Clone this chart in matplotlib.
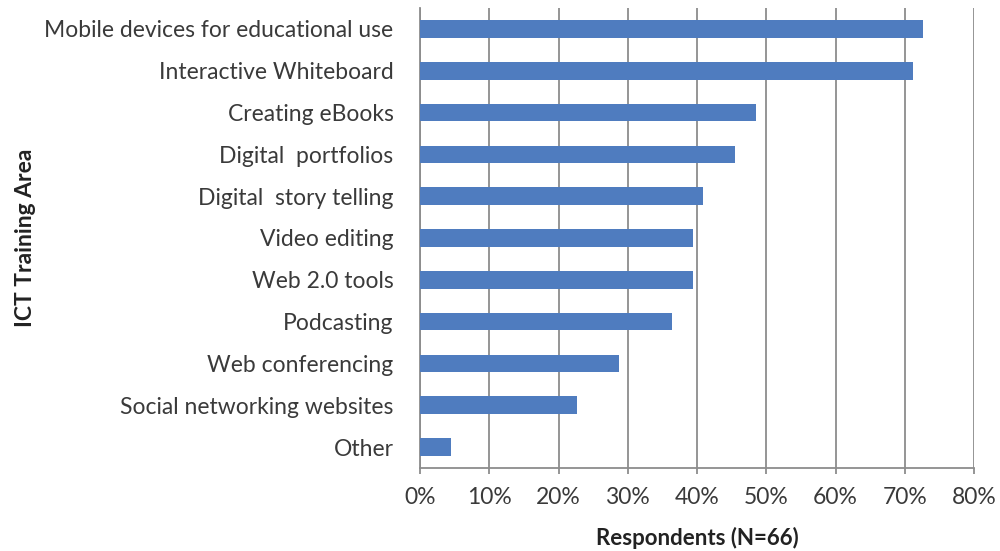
import matplotlib
matplotlib.use("Agg")
import matplotlib.pyplot as plt
from matplotlib.ticker import PercentFormatter

categories = [
    "Mobile devices for educational use",
    "Interactive Whiteboard",
    "Creating eBooks",
    "Digital  portfolios",
    "Digital  story telling",
    "Video editing",
    "Web 2.0 tools",
    "Podcasting",
    "Web conferencing",
    "Social networking websites",
    "Other",
]
values = [72.7, 71.2, 48.5, 45.5, 40.9, 39.4, 39.4, 36.4, 28.8, 22.7, 4.5]
xticks = [0, 10, 20, 30, 40, 50, 60, 70, 80]

plt.rcParams['font.family'] = ['Lato', 'DejaVu Sans']

W, H = 1000, 551
fig = plt.figure(figsize=(W / 100, H / 100), dpi=100)
left, right, top, bottom = 420, 974, 8, 468
ax = fig.add_axes([left / W, 1 - bottom / H, (right - left) / W, (bottom - top) / H])

ypos = list(range(len(categories)))
ax.barh(ypos, values, height=0.42, color='#4f7cbf', zorder=3)
ax.set_ylim(len(categories) - 0.5, -0.5)
ax.set_xlim(0, 80)
ax.set_xticks(xticks)
ax.xaxis.set_major_formatter(PercentFormatter(decimals=0))
ax.set_yticks(ypos)
ax.set_yticklabels(categories)

ax.grid(axis='x', color='#8c8c8c', linewidth=1.3, zorder=0)
for s in ['top', 'right']:
    ax.spines[s].set_visible(False)
for s in ['left', 'bottom']:
    ax.spines[s].set_color('#8c8c8c')
    ax.spines[s].set_linewidth(1.3)

ax.tick_params(axis='x', colors='#8c8c8c', labelcolor='#3a3a3a', labelsize=16.5,
               length=4.5, width=1.3, pad=9)
ax.tick_params(axis='y', length=0, labelcolor='#3a3a3a', labelsize=16.5, pad=19)

ax.set_xlabel("Respondents (N=66)", fontsize=16, fontweight='bold', color='#222222', labelpad=14)
ax.set_ylabel("ICT Training Area", fontsize=16.5, fontweight='bold', color='#222222', labelpad=6)

fig.savefig("out.png", dpi=100)
